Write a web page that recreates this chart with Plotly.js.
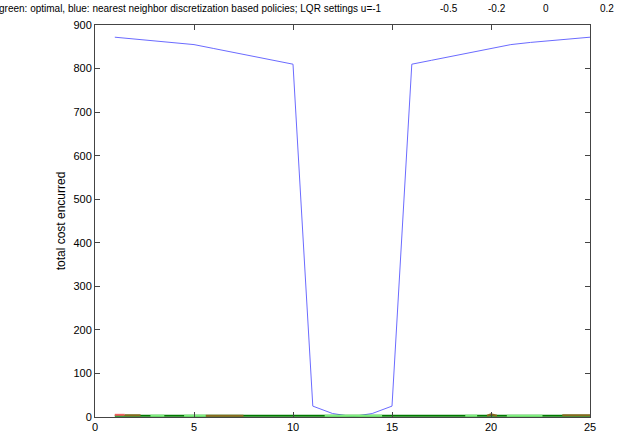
<!DOCTYPE html>
<html>
<head>
<meta charset="utf-8">
<script src="https://cdn.plot.ly/plotly-3.0.1.min.js"></script>
<style>html,body{margin:0;padding:0;background:#fff;}#chart{width:626px;height:435px;}</style>
</head>
<body>
<div id="chart"></div>
<script>
// x positions (discretization settings)
const xs = [1,2,3,4,5,6,7,8,9,10,11,12,13,14,15,16,17,18,19,20,21,22,23,24,25];
// blue: nearest neighbor discretization based policies
const nearestCost = [872,868,864,860,855,846,837,828,819,810,25,8,1,8,25,810,819,828,837,846,855,860,864,868,872];
// green: optimal
const optimalCost = [3,3,3,3,3,3,3,3,3,3,3,3,3,3,3,3,3,3,3,3,3,3,3,3,3];
// LQR-setting segments visible over the optimal line
const lightX = [2.8,3.5,null,4.5,5.6,null,11.6,14.5,null,18.7,19.3,null,20.8,22.6];
const lightY = [3,3,null,3,3,null,3,3,null,3,3,null,3,3];
const brownX = [1.5,2.3,null,5.6,7.5,null,19.8,20,20.3,null,23.6,25];
const brownY = [4,4,null,3,3,null,3,6,3,null,4,4];
const redX = [1,1.5];
const redY = [5,5];
// title pieces
const titleMain = 'green: optimal, blue: nearest neighbor discretization based policies; LQR settings u=-1';
const lqrSettings = ['-0.5', '-0.2', '0', '0.2'];

const traces = [
  {x: xs, y: nearestCost, mode: 'lines', line: {color: '#6b6bff', width: 1}},
  {x: xs, y: optimalCost, mode: 'lines', line: {color: '#007a00', width: 2}},
  {x: lightX, y: lightY, mode: 'lines', line: {color: '#80f080', width: 2}, connectgaps: false},
  {x: brownX, y: brownY, mode: 'lines', line: {color: '#8a6a20', width: 2}, connectgaps: false},
  {x: redX, y: redY, mode: 'lines', line: {color: '#f06060', width: 2}}
];

const fam = 'Liberation Sans, Arial, sans-serif';
const plotL = 95, plotW = 495, plotT = 25, plotH = 392;
const px2x = p => (p - plotL) / plotW;
const titleY = 1 + (plotT - 8) / plotH;
const settingCenters = [449, 497, 546, 607];

const annotations = [
  {text: titleMain, xref: 'paper', yref: 'paper', x: px2x(384), y: titleY, xanchor: 'right', yanchor: 'middle',
   showarrow: false, font: {family: fam, size: 10, color: '#000'}}
].concat(lqrSettings.map((s, i) => ({
  text: s, xref: 'paper', yref: 'paper', x: px2x(settingCenters[i]), y: titleY, xanchor: 'center', yanchor: 'middle',
  showarrow: false, font: {family: fam, size: 10, color: '#000'}
})));

const axisCommon = {
  showline: true, linecolor: '#444', linewidth: 1, mirror: 'ticks',
  ticks: 'inside', ticklen: 5, tickcolor: '#444',
  showgrid: false, zeroline: false,
  tickfont: {family: fam, size: 11, color: '#000'}
};

const layout = {
  width: 626, height: 435,
  margin: {l: plotL, r: 626 - plotL - plotW, t: plotT, b: 435 - plotT - plotH},
  paper_bgcolor: '#fff', plot_bgcolor: '#fff',
  showlegend: false,
  annotations: annotations,
  xaxis: Object.assign({}, axisCommon, {range: [0, 25], tickvals: [0,5,10,15,20,25]}),
  yaxis: Object.assign({}, axisCommon, {range: [0, 900], tickvals: [0,100,200,300,400,500,600,700,800,900],
    title: {text: 'total cost encurred', standoff: 5, font: {family: fam, size: 12, color: '#000'}}})
};

Plotly.newPlot('chart', traces, layout, {displayModeBar: false, staticPlot: true});
</script>
</body>
</html>
